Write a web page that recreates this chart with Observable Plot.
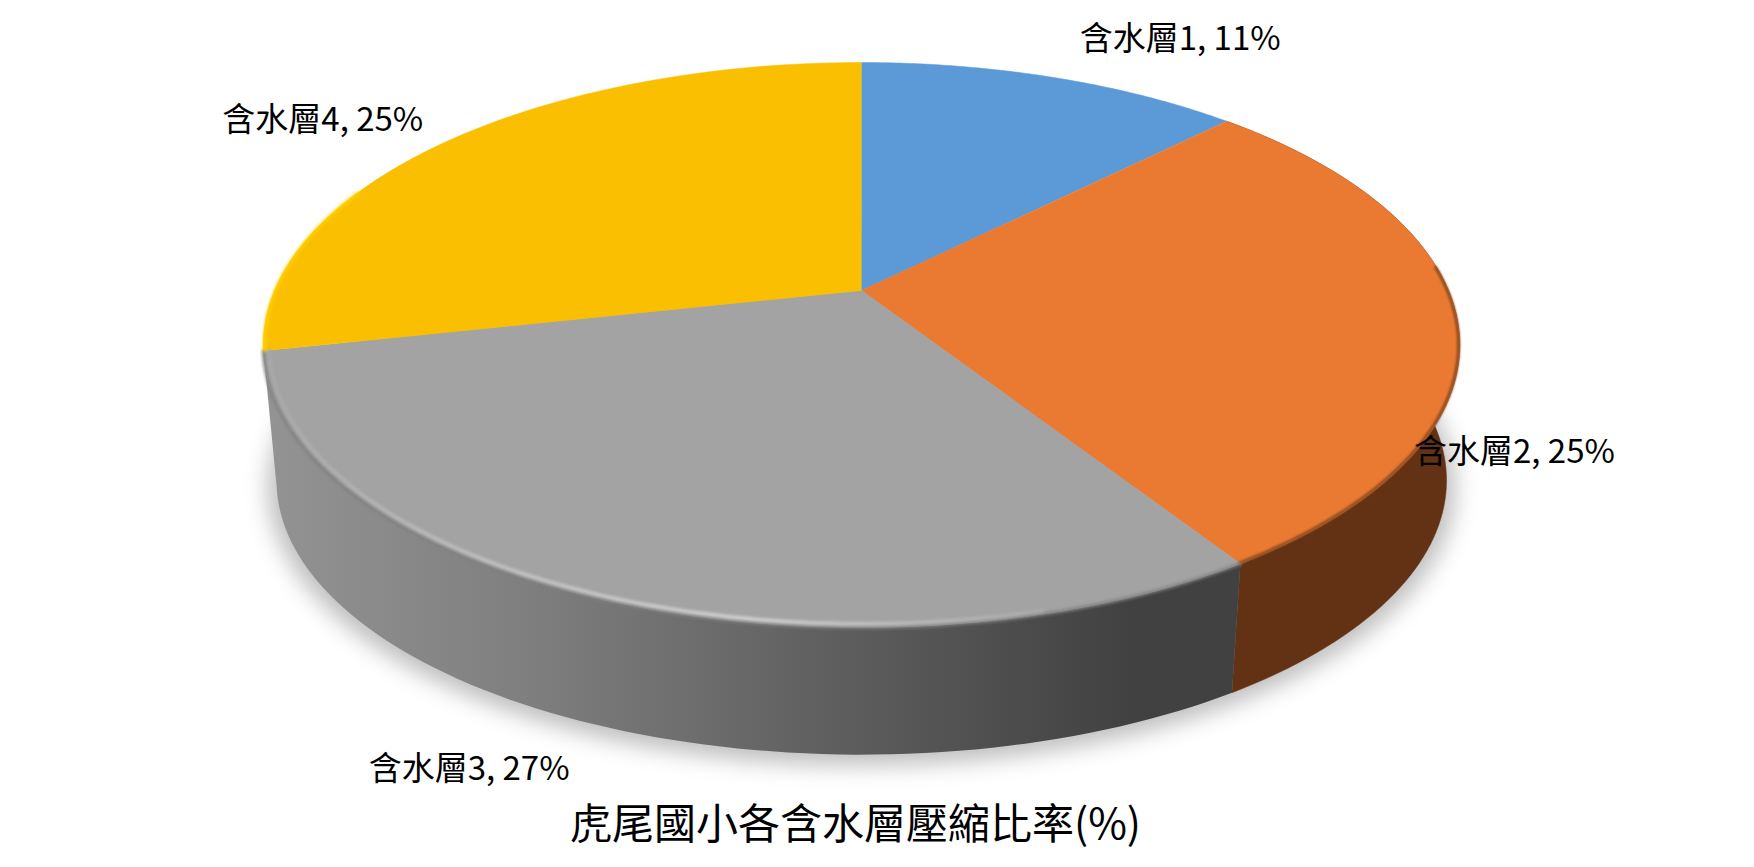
<!DOCTYPE html>
<html><head><meta charset="utf-8">
<style>html,body{margin:0;padding:0;background:#fff}</style>
<script src="https://cdn.jsdelivr.net/npm/d3@7"></script>
<script src="https://cdn.jsdelivr.net/npm/@observablehq/plot@0.6"></script>
</head><body><div id="chart"></div>
<script>
const categories = ["含水層1", "含水層2", "含水層3", "含水層4"];
const percents = [11, 25, 27, 25];
const sliceColors = ["#5b9ad6", "#ea7a32", "#a3a3a3", "#fabf00"];
const chartTitle = "虎尾國小各含水層壓縮比率(%)";

// 3D view of the pie
const view = {cx: 861, cy: 290, R: 587, H: 272, k: 0.193};
const floor = {cx: 861, cy: 427, R: 574, H: 264, k: 0.193};
const labelOffsets = [[128, -38], [57, 132], [-119, 173], [-131, -18]];

const project = (deg, r = 1, p = view) => {
  const a = deg * Math.PI / 180, u = r * Math.sin(a), v = r * Math.cos(a), s = 1 / (1 + p.k * v);
  return {x: p.cx + p.R * u * s, y: p.cy - p.H * v * s};
};
const total = d3.sum(percents);
let acc = 0;
const slices = percents.map((v, i) => {
  const a0 = acc / total * 360; acc += v; const a1 = acc / total * 360;
  return {name: categories[i], value: v, color: sliceColors[i], a0, a1, mid: (a0 + a1) / 2};
});
const arc = (a0, a1, r = 1, p = view) => d3.range(0, 81).map(i => project(a0 + (a1 - a0) * i / 80, r, p));
const wedge = s => [{x: view.cx, y: view.cy}, ...arc(s.a0, s.a1)];
const wall = s => [...arc(s.a0, s.a1), ...arc(s.a0, s.a1, 1, floor).reverse()];
const [blue, orange, gray, yellow] = slices;
const blurred = px => function (index, scales, values, dimensions, context, next) {
  const g = next(index, scales, values, dimensions, context);
  g.style.filter = `blur(${px}px)`;
  return g;
};

const chart = Plot.plot({
  width: 1754, height: 867, margin: 0,
  x: {domain: [0, 1754], range: [0, 1754], axis: null},
  y: {domain: [0, 867], range: [0, 867], axis: null},
  style: {background: "#fff", fontFamily: "'Noto Sans CJK TC','Noto Sans',sans-serif", color: "#000"},
  marks: [
    Plot.line(arc(0, 360, 1.015, {...floor, cy: floor.cy + 5}), {x: "x", y: "y", fill: "#000", fillOpacity: 0.25, stroke: "none", render: blurred(11)}),
    Plot.line(wall(orange), {x: "x", y: "y", fill: "#633113", stroke: "#633113", strokeWidth: 0.5}),
    Plot.line(wall(gray), {x: "x", y: "y", fill: "url(#wallGray)", stroke: "none"}),
    ...slices.map(s => Plot.line(wedge(s), {x: "x", y: "y", fill: s.color, stroke: s.color, strokeWidth: 0.5})),
    Plot.line(arc(orange.a0 + 40, orange.a1, 0.998), {x: "x", y: "y", stroke: "#8a4a20", strokeWidth: 3, render: blurred(1.2)}),
    Plot.line(arc(gray.a0, gray.a1, 1), {x: "x", y: "y", stroke: "#808080", strokeWidth: 3, render: blurred(1.4)}),
    Plot.line(arc(gray.a0 + 18, gray.a1, 0.991), {x: "x", y: "y", stroke: "url(#rimGray)", strokeWidth: 3.5, render: blurred(1.4)}),
    Plot.line(arc(yellow.a0, yellow.a0 + 35, 0.998), {x: "x", y: "y", stroke: "#ffd000", strokeWidth: 3, render: blurred(1.4)}),
    Plot.text(slices, {
      x: s => project(s.mid).x + labelOffsets[slices.indexOf(s)][0],
      y: s => project(s.mid).y + labelOffsets[slices.indexOf(s)][1],
      text: s => `${s.name}, ${s.value}%`,
      fontSize: 33, fill: "#000", textAnchor: "middle", lineAnchor: "middle"
    }),
    Plot.text([chartTitle], {frameAnchor: "bottom", text: d => d, dx: -22, dy: -42, fontSize: 42, fill: "#000", lineAnchor: "middle"})
  ]
});

const defs = `
<linearGradient id="wallGray" gradientUnits="userSpaceOnUse" x1="265" y1="0" x2="1130" y2="0">
  <stop offset="0" stop-color="#939393"/><stop offset="0.3" stop-color="#7f7f7f"/><stop offset="0.65" stop-color="#5f5f5f"/><stop offset="1" stop-color="#414141"/>
</linearGradient>
<linearGradient id="rimGray" gradientUnits="userSpaceOnUse" x1="263" y1="0" x2="1235" y2="0">
  <stop offset="0" stop-color="#a8a8a8"/><stop offset="0.25" stop-color="#c4c4c4"/><stop offset="0.5" stop-color="#d4d4d4"/><stop offset="0.72" stop-color="#b4b4b4"/><stop offset="0.88" stop-color="#a3a3a3"/><stop offset="1" stop-color="#8c8c8c"/>
</linearGradient>`;
const d = document.createElementNS("http://www.w3.org/2000/svg", "defs");
d.innerHTML = defs;
chart.insertBefore(d, chart.firstChild);
document.getElementById("chart").appendChild(chart);
</script></body></html>
